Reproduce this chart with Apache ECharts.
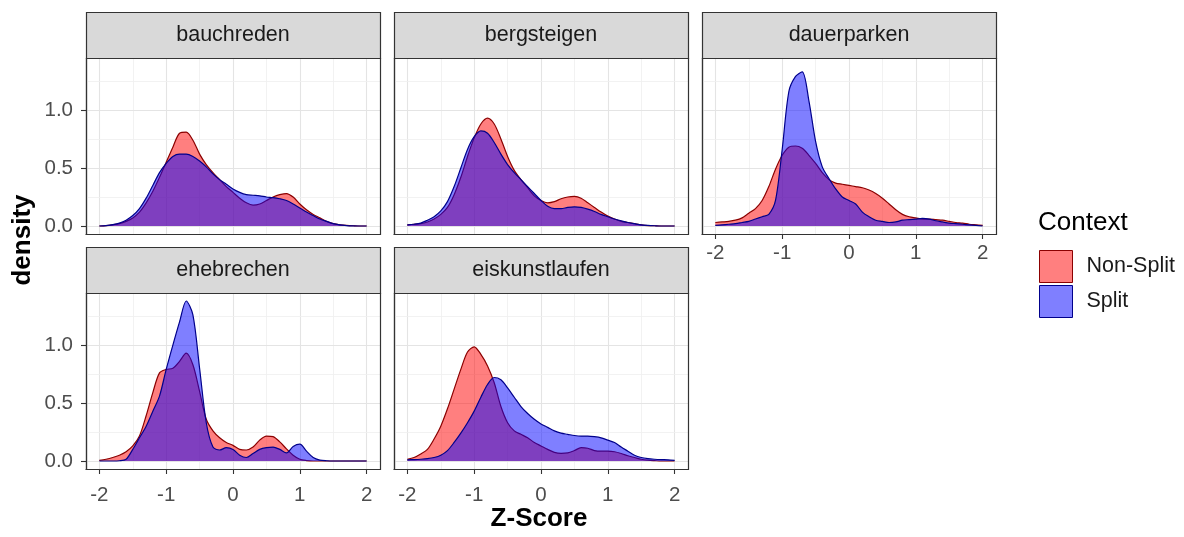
<!DOCTYPE html>
<html>
<head>
<meta charset="utf-8">
<script src="https://cdn.jsdelivr.net/npm/echarts@6/dist/echarts.min.js"></script>
<style>
  html, body { margin: 0; padding: 0; background: #ffffff; }
  #chart { width: 1184px; height: 537px; }
</style>
</head>
<body>
<div id="chart"></div>
<script>
// Z-score grid on which each density estimate is evaluated
const zScores = [-2.0,-1.9,-1.8,-1.7,-1.6,-1.5,-1.4,-1.3,-1.2,-1.1,-1.0,-0.9,-0.8,-0.7,-0.6,-0.5,-0.4,-0.3,-0.2,-0.1,
                 0.0,0.1,0.2,0.3,0.4,0.5,0.6,0.7,0.8,0.9,1.0,1.1,1.2,1.3,1.4,1.5,1.6,1.7,1.8,1.9,2.0];

const facetNames = ['bauchreden', 'bergsteigen', 'dauerparken', 'ehebrechen', 'eiskunstlaufen'];
const contextNames = ['Non-Split', 'Split'];

// density values per facet and context
const bauchredenNonSplit = [0.00,0.003,0.01,0.02,0.04,0.07,0.12,0.20,0.30,0.42,0.55,0.68,0.80,0.81,0.74,0.62,0.53,0.46,0.40,0.34,
                            0.29,0.24,0.20,0.18,0.19,0.22,0.25,0.27,0.28,0.25,0.19,0.14,0.10,0.07,0.04,0.02,0.01,0.005,0.002,0.0,0.0];
const bauchredenSplit    = [0.00,0.004,0.012,0.025,0.05,0.09,0.15,0.24,0.35,0.46,0.54,0.60,0.62,0.62,0.60,0.56,0.51,0.45,0.40,0.36,
                            0.32,0.29,0.27,0.265,0.26,0.25,0.245,0.235,0.22,0.19,0.155,0.12,0.09,0.06,0.04,0.02,0.01,0.004,0.001,0.0,0.0];

const bergsteigenNonSplit = [0.01,0.015,0.02,0.035,0.06,0.10,0.16,0.27,0.42,0.60,0.76,0.88,0.93,0.88,0.75,0.60,0.48,0.40,0.33,0.26,
                             0.22,0.20,0.21,0.235,0.25,0.255,0.24,0.20,0.16,0.12,0.085,0.06,0.04,0.03,0.02,0.01,0.004,0.002,0.0,0.0,0.0];
const bergsteigenSplit    = [0.01,0.015,0.025,0.05,0.08,0.13,0.21,0.34,0.50,0.66,0.77,0.82,0.80,0.72,0.62,0.53,0.46,0.40,0.34,0.28,
                             0.22,0.17,0.15,0.15,0.16,0.165,0.16,0.145,0.125,0.10,0.08,0.06,0.045,0.03,0.02,0.01,0.005,0.002,0.0,0.0,0.0];

const dauerparkenNonSplit = [0.03,0.035,0.04,0.05,0.07,0.11,0.15,0.22,0.34,0.49,0.61,0.68,0.69,0.67,0.61,0.54,0.46,0.40,0.37,0.36,
                             0.35,0.34,0.33,0.31,0.28,0.24,0.19,0.14,0.10,0.08,0.07,0.06,0.06,0.055,0.05,0.04,0.03,0.025,0.015,0.01,0.005];
const dauerparkenSplit    = [0.005,0.01,0.015,0.02,0.03,0.04,0.06,0.08,0.10,0.22,0.66,1.16,1.29,1.33,1.08,0.73,0.51,0.41,0.32,0.25,
                             0.22,0.19,0.12,0.08,0.05,0.04,0.03,0.035,0.05,0.055,0.06,0.065,0.06,0.045,0.035,0.025,0.02,0.015,0.01,0.005,0.0];

const ehebrechenNonSplit = [0.005,0.015,0.03,0.05,0.08,0.13,0.215,0.39,0.59,0.76,0.79,0.80,0.86,0.93,0.83,0.60,0.36,0.26,0.20,0.16,
                            0.135,0.10,0.095,0.12,0.18,0.215,0.21,0.165,0.105,0.05,0.015,0.004,0.0,0.0,0.0,0.0,0.0,0.0,0.0,0.0,0.0];
const ehebrechenSplit    = [0.0,0.0,0.0,0.002,0.015,0.10,0.20,0.30,0.43,0.56,0.79,1.00,1.20,1.38,1.26,0.80,0.33,0.12,0.095,0.115,
                            0.10,0.05,0.03,0.065,0.10,0.115,0.12,0.10,0.07,0.125,0.145,0.085,0.03,0.008,0.002,0.0,0.0,0.0,0.0,0.0,0.0];

const eiskunstlaufenNonSplit = [0.015,0.03,0.06,0.10,0.19,0.30,0.45,0.62,0.79,0.94,0.985,0.92,0.82,0.675,0.47,0.33,0.26,0.23,0.20,0.16,
                                0.13,0.10,0.075,0.066,0.07,0.09,0.115,0.11,0.09,0.085,0.085,0.08,0.065,0.045,0.03,0.015,0.007,0.003,0.0,0.0,0.0];
const eiskunstlaufenSplit    = [0.01,0.012,0.015,0.02,0.03,0.05,0.09,0.16,0.24,0.33,0.43,0.55,0.66,0.72,0.70,0.63,0.55,0.47,0.41,0.36,
                                0.32,0.29,0.26,0.24,0.23,0.22,0.215,0.215,0.21,0.20,0.18,0.16,0.12,0.085,0.05,0.03,0.02,0.015,0.012,0.01,0.005];

// axis ticks and grid positions
const xTickValues = [-2, -1, 0, 1, 2];
const xMinorValues = [-1.5, -0.5, 0.5, 1.5];
const yTickValues = [0, 0.5, 1.0];
const yMinorValues = [0.25, 0.75, 1.25];

const facetSeries = [
  [bauchredenNonSplit, bauchredenSplit],
  [bergsteigenNonSplit, bergsteigenSplit],
  [dauerparkenNonSplit, dauerparkenSplit],
  [ehebrechenNonSplit, ehebrechenSplit],
  [eiskunstlaufenNonSplit, eiskunstlaufenSplit]
];

// ---- layout & style ----
const FONT = '"Liberation Sans", Arial, Helvetica, sans-serif';
const PANEL_W = 294, PANEL_H = 176, STRIP_H = 46;
const panelPos = [[86, 58], [394, 58], [702, 58], [86, 293], [394, 293]];
const showX = [false, false, true, true, true];
const showY = [true, false, false, true, false];
const xLabelMargin = [8, 8, 9, 16, 16];
const X_MIN = -2.2, X_MAX = 2.2;
const Y_MIN = -0.069, Y_MAX = 1.449;

const fillColors = ['rgba(255,0,0,0.5)', 'rgba(0,0,255,0.5)'];
const lineColors = ['#8B0000', '#00008B'];
const majorGrid = { color: '#E4E4E4', width: 1.1, type: 'solid' };
const minorGrid = { color: '#EFEFEF', width: 0.8, type: 'solid' };
const frameLine = { color: '#333333', width: 1.2 };

const grids = [], xAxes = [], yAxes = [], series = [], graphics = [];

const gridLineData = [].concat(
  xTickValues.map(v => ({ xAxis: v, lineStyle: majorGrid })),
  xMinorValues.map(v => ({ xAxis: v, lineStyle: minorGrid })),
  yTickValues.map(v => ({ yAxis: v, lineStyle: majorGrid })),
  yMinorValues.map(v => ({ yAxis: v, lineStyle: minorGrid }))
);

facetNames.forEach((name, i) => {
  const [left, top] = panelPos[i];
  grids.push({ left: left, top: top, width: PANEL_W, height: PANEL_H, containLabel: false });

  xAxes.push({
    type: 'value', gridIndex: i, min: X_MIN, max: X_MAX,
    axisLine: { show: true, onZero: false, lineStyle: frameLine },
    splitLine: { show: false },
    axisTick: { show: showX[i], customValues: xTickValues, length: 5, lineStyle: { color: '#333333', width: 1.1 } },
    axisLabel: {
      show: showX[i], customValues: xTickValues, margin: xLabelMargin[i],
      fontSize: 20.5, color: '#4D4D4D', fontFamily: FONT,
      formatter: v => String(v)
    }
  });

  yAxes.push({
    type: 'value', gridIndex: i, min: Y_MIN, max: Y_MAX,
    axisLine: { show: true, onZero: false, lineStyle: frameLine },
    splitLine: { show: false },
    axisTick: { show: showY[i], customValues: yTickValues, length: 5, lineStyle: { color: '#333333', width: 1.1 } },
    axisLabel: {
      show: showY[i], customValues: yTickValues, margin: 13,
      fontSize: 20.5, color: '#4D4D4D', fontFamily: FONT,
      formatter: v => v.toFixed(1)
    }
  });

  contextNames.forEach((ctx, k) => {
    const s = {
      type: 'line', name: ctx, xAxisIndex: i, yAxisIndex: i,
      data: zScores.map((z, j) => [z, facetSeries[i][k][j]]),
      smooth: 0.3, symbol: 'none', z: 2 + k,
      lineStyle: { color: lineColors[k], width: 1.2 },
      itemStyle: { color: fillColors[k], borderColor: lineColors[k] },
      areaStyle: { color: fillColors[k], opacity: 1 },
      emphasis: { disabled: true },
      silent: true
    };
    if (k === 0) {
      s.markLine = {
        silent: true, z: 1, animation: false,
        symbol: ['none', 'none'],
        label: { show: false },
        emphasis: { disabled: true },
        data: gridLineData
      };
    }
    series.push(s);
  });

  // facet strip
  graphics.push({
    type: 'rect', z: 50,
    shape: { x: left + 0.5, y: top - STRIP_H + 0.5, width: PANEL_W, height: STRIP_H },
    style: { fill: '#D9D9D9', stroke: '#333333', lineWidth: 1.2 }
  });
  graphics.push({
    type: 'text', z: 51,
    x: left + PANEL_W / 2, y: top - STRIP_H / 2,
    style: { text: name, fill: '#1A1A1A', fontSize: 21.5, fontFamily: FONT, align: 'center', verticalAlign: 'middle' }
  });
  // panel border
  graphics.push({
    type: 'rect', z: 60,
    shape: { x: left + 0.5, y: top + 0.5, width: PANEL_W, height: PANEL_H },
    style: { fill: 'none', stroke: '#333333', lineWidth: 1.2 }
  });
});

// axis titles
graphics.push({
  type: 'text', z: 50, x: 539, y: 519,
  style: { text: 'Z-Score', fill: '#000000', fontSize: 26, fontWeight: 'bold', fontFamily: FONT, align: 'center', verticalAlign: 'middle' }
});
graphics.push({
  type: 'text', z: 50, x: 23, y: 240, rotation: Math.PI / 2,
  style: { text: 'density', fill: '#000000', fontSize: 26, fontWeight: 'bold', fontFamily: FONT, align: 'center', verticalAlign: 'middle' }
});

const chart = echarts.init(document.getElementById('chart'), null, { renderer: 'canvas' });
chart.setOption({
  animation: false,
  backgroundColor: '#ffffff',
  textStyle: { fontFamily: FONT },
  title: {
    text: 'Context', left: 1038, top: 210, padding: 0,
    textStyle: { fontSize: 26, fontWeight: 'normal', color: '#000000', fontFamily: FONT }
  },
  legend: {
    orient: 'vertical', left: 1039, top: 250, padding: 0,
    itemWidth: 33, itemHeight: 32, itemGap: 2, icon: 'rect', selectedMode: false,
    textStyle: { fontSize: 21.5, color: '#1A1A1A', fontFamily: FONT, padding: [0, 0, 0, 9] },
    data: contextNames.map((n, k) => ({
      name: n, icon: 'rect',
      itemStyle: { color: fillColors[k], borderColor: lineColors[k], borderWidth: 1 }
    }))
  },
  grid: grids,
  xAxis: xAxes,
  yAxis: yAxes,
  series: series,
  graphic: graphics
});
</script>
</body>
</html>
